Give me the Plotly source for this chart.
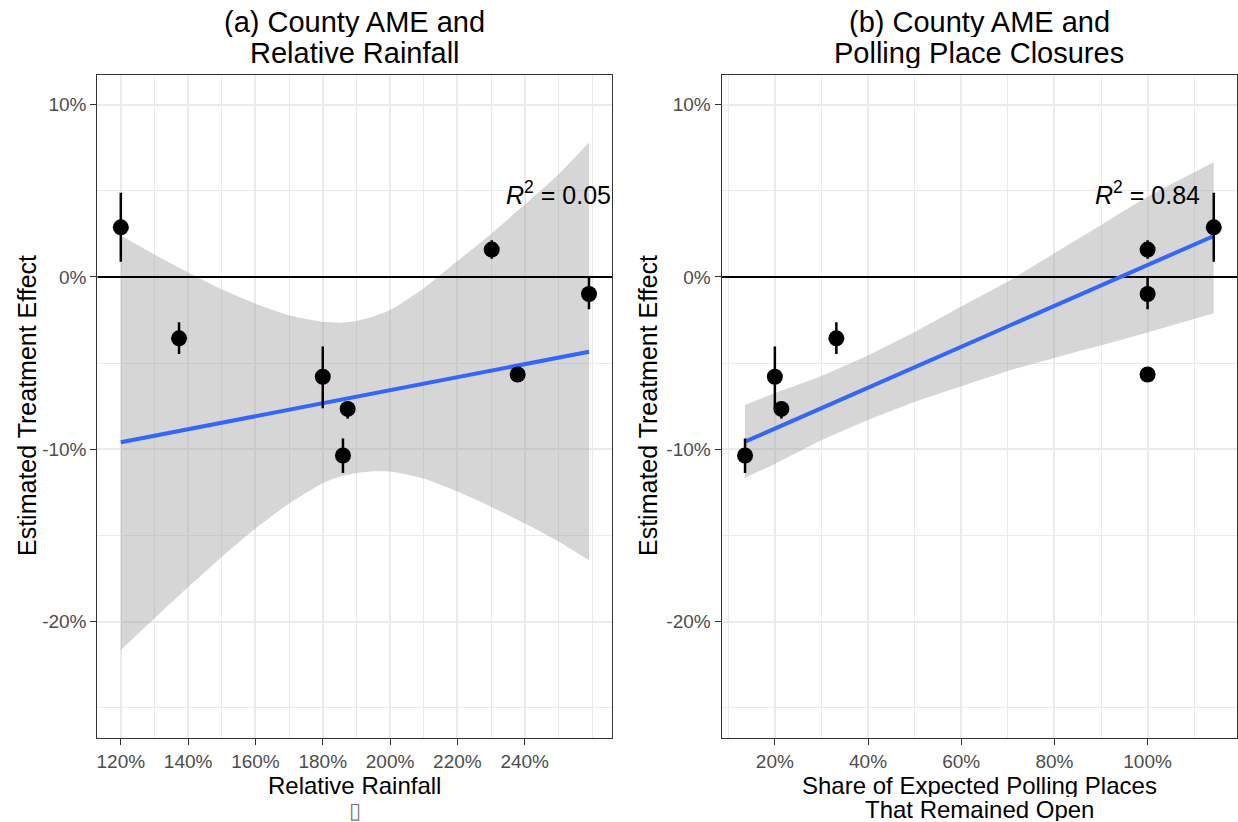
import plotly.graph_objects as go

# County-level average marginal effects (percentage points) and 95% intervals
ame = [2.88, -3.56, -5.79, -7.66, -10.36, -5.66, 1.59, -0.99]
ame_lo = [0.89, -4.47, -7.62, -8.22, -11.38, -5.92, 1.06, -1.87]
ame_hi = [4.89, -2.63, -4.03, -7.23, -9.37, -5.42, 2.13, -0.02]

# County covariates (percent)
rainfall = [120.0, 137.3, 180.0, 187.4, 186.0, 237.9, 230.2, 259.1]
share_open = [114.2, 33.2, 20.0, 21.4, 13.6, 100.0, 100.0, 100.0]

# Fitted regression lines with 95% confidence bands
rain_fit_x = [120.0, 259.1]
rain_fit_y = [-9.59, -4.34]
rain_band_x = [120, 130, 140, 150, 160, 170, 180, 185, 190, 195, 200, 210, 220, 230, 240, 250, 259.1]
rain_band_hi = [2.40, 1.30, 0.26, -0.72, -1.55, -2.22, -2.60, -2.65, -2.55, -2.30, -1.92, -0.65, 0.92, 2.50, 4.20, 5.95, 7.80]
rain_band_lo = [-21.65, -19.80, -18.00, -16.25, -14.60, -13.15, -11.97, -11.60, -11.38, -11.28, -11.29, -11.70, -12.45, -13.33, -14.30, -15.35, -16.44]

open_fit_x = [13.6, 114.2]
open_fit_y = [-9.56, 2.38]
open_band_x = [13.6, 20, 30, 40, 50, 60, 70, 80, 90, 100, 114.2]
open_band_hi = [-7.43, -6.75, -5.75, -4.55, -3.20, -1.72, -0.27, 1.38, 3.02, 4.66, 6.66]
open_band_lo = [-11.65, -10.85, -9.48, -8.30, -7.25, -6.34, -5.45, -4.70, -3.97, -3.22, -2.11]

# Axis ticks
y_ticks = [-20, -10, 0, 10]
y_ticktext = ["-20%", "-10%", "0%", "10%"]
y_minor = [-25, -15, -5, 5]
y_limits = [-25, 10]
rain_ticks = [120, 140, 160, 180, 200, 220, 240]
rain_ticktext = ["120%", "140%", "160%", "180%", "200%", "220%", "240%"]
rain_minor = [130, 150, 170, 190, 210, 230, 250, 260]
open_ticks = [20, 40, 60, 80, 100]
open_ticktext = ["20%", "40%", "60%", "80%", "100%"]
open_minor = [10, 30, 50, 70, 90, 110]

r2_rain = "0.05"
r2_open = "0.84"

FONT = "Liberation Sans, Arial, Helvetica, sans-serif"
W, H = 1238, 822


def expand(lo, hi, mult=0.05):
    span = hi - lo
    return [lo - mult * span, hi + mult * span]


rain_range = expand(min(rainfall), max(rainfall))
open_range = expand(min(share_open), max(share_open))
y_range = expand(*y_limits)

fig = go.Figure()


def add_panel(xs, fit_x, fit_y, band_x, band_lo, band_hi, x_range, xa, ya):
    # confidence band: lower edge, then upper edge filled down to it
    fig.add_trace(go.Scatter(
        x=band_x, y=band_lo, mode="lines",
        line=dict(width=0, shape="spline", smoothing=0.6), hoverinfo="skip",
        xaxis=xa, yaxis=ya, showlegend=False))
    fig.add_trace(go.Scatter(
        x=band_x, y=band_hi, mode="lines", fill="tonexty",
        fillcolor="rgba(153,153,153,0.4)",
        line=dict(width=0, shape="spline", smoothing=0.6), hoverinfo="skip",
        xaxis=xa, yaxis=ya, showlegend=False))
    # reference line at zero
    fig.add_trace(go.Scatter(
        x=x_range, y=[0, 0], mode="lines",
        line=dict(color="black", width=2),
        xaxis=xa, yaxis=ya, showlegend=False, hoverinfo="skip"))
    # regression line
    fig.add_trace(go.Scatter(
        x=fit_x, y=fit_y, mode="lines",
        line=dict(color="#3366FF", width=4),
        xaxis=xa, yaxis=ya, showlegend=False))
    # county estimates with intervals
    fig.add_trace(go.Scatter(
        x=xs, y=ame, mode="markers",
        marker=dict(color="black", size=16),
        error_y=dict(type="data", symmetric=False,
                     array=[h - v for h, v in zip(ame_hi, ame)],
                     arrayminus=[v - l for v, l in zip(ame, ame_lo)],
                     width=0, thickness=2.5, color="black"),
        xaxis=xa, yaxis=ya, showlegend=False))


add_panel(rainfall, rain_fit_x, rain_fit_y, rain_band_x, rain_band_lo, rain_band_hi,
          rain_range, "x", "y")
add_panel(share_open, open_fit_x, open_fit_y, open_band_x, open_band_lo, open_band_hi,
          open_range, "x2", "y2")

px_x = lambda p: p / W
px_y = lambda p: 1 - p / H

dom_a = [px_x(97.4), px_x(612.4)]
dom_b = [px_x(721.6), px_x(1237.2)]
dom_y = [px_y(737.9), px_y(74.5)]

axis_common = dict(
    showline=True, mirror=True, linecolor="#333333", linewidth=1.2,
    ticks="outside", ticklen=6, tickwidth=1.2, tickcolor="#333333",
    tickfont=dict(family=FONT, size=19, color="#4D4D4D"),
    showgrid=True, gridcolor="#EBEBEB", gridwidth=2, zeroline=False,
)

fig.update_layout(
    width=W, height=H, margin=dict(l=0, r=0, t=0, b=0),
    paper_bgcolor="white", plot_bgcolor="white", showlegend=False,
    xaxis=dict(domain=dom_a, range=rain_range, tickvals=rain_ticks, ticktext=rain_ticktext,
               minor=dict(tickvals=rain_minor, showgrid=True, gridcolor="#EBEBEB", gridwidth=1),
               anchor="y", **axis_common),
    yaxis=dict(domain=dom_y, range=y_range, tickvals=y_ticks, ticktext=y_ticktext,
               minor=dict(tickvals=y_minor, showgrid=True, gridcolor="#EBEBEB", gridwidth=1),
               anchor="x", **axis_common),
    xaxis2=dict(domain=dom_b, range=open_range, tickvals=open_ticks, ticktext=open_ticktext,
                minor=dict(tickvals=open_minor, showgrid=True, gridcolor="#EBEBEB", gridwidth=1),
                anchor="y2", **axis_common),
    yaxis2=dict(domain=dom_y, range=y_range, tickvals=y_ticks, ticktext=y_ticktext,
                minor=dict(tickvals=y_minor, showgrid=True, gridcolor="#EBEBEB", gridwidth=1),
                anchor="x2", **axis_common),
)

ca = (dom_a[0] + dom_a[1]) / 2
cb = (dom_b[0] + dom_b[1]) / 2


def label(text, x, ypx, size, angle=0, color="black", box=None):
    extra = {} if box is None else dict(height=box)
    fig.add_annotation(text=text, x=x, y=px_y(ypx),
                       xref="paper", yref="paper", showarrow=False, textangle=angle,
                       xanchor="center", yanchor="middle", valign="middle",
                       font=dict(family=FONT, size=size, color=color), **extra)


# panel titles
label("(a) County AME and", ca, 22, 29, box=31)
label("Relative Rainfall", ca, 52, 29, box=31)
label("(b) County AME and", cb, 22, 29, box=31)
label("Polling Place Closures", cb, 52, 29, box=31)

# x-axis titles
label("Relative Rainfall", ca, 785, 24, box=24)
label("\u25AF", ca, 810, 22, color="#777777", box=22)
label("Share of Expected Polling Places", cb, 785, 24, box=24)
label("That Remained Open", cb, 809, 24, box=24)

# y-axis titles
label("Estimated Treatment Effect", px_x(27), 406, 25, angle=-90)
label("Estimated Treatment Effect", px_x(648), 406, 25, angle=-90)

# R-squared labels
fig.add_annotation(text="<i>R</i><sup>2</sup> = " + r2_rain, x=250, y=4.9, xref="x", yref="y",
                   showarrow=False, xanchor="center", yanchor="middle",
                   font=dict(family=FONT, size=25, color="black"))
fig.add_annotation(text="<i>R</i><sup>2</sup> = " + r2_open, x=100, y=4.9, xref="x2", yref="y2",
                   showarrow=False, xanchor="center", yanchor="middle",
                   font=dict(family=FONT, size=25, color="black"))

fig.write_html("out.html")
